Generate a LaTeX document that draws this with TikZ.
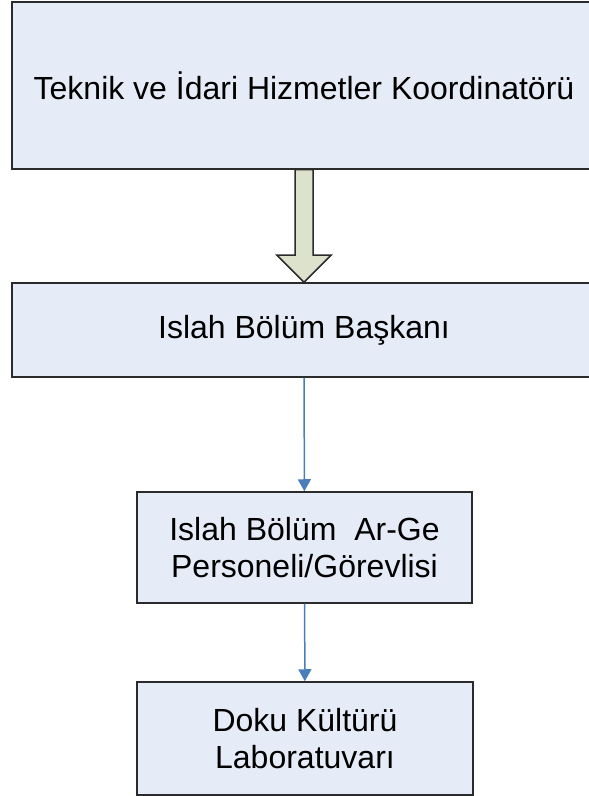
\documentclass[tikz,border=0pt]{standalone}
\usepackage{fontspec}
\setmainfont{Liberation Sans}
\usetikzlibrary{calc, arrows.meta}
\definecolor{boxfill}{HTML}{E6ECF7}
\definecolor{boxline}{HTML}{2B2B2B}
\definecolor{bigfill}{HTML}{DDE2CC}
\definecolor{linkblue}{HTML}{4A7EBB}

\begin{document}
\begin{tikzpicture}[x=1pt,y=1pt,
    unit/.style={draw=boxline, fill=boxfill, line width=1.5pt, align=center,
      inner sep=0pt, font=\fontsize{32}{37}\selectfont},
    link/.style={draw=linkblue, line width=1.5pt, -{Triangle[width=13pt,length=12pt]}}]
    \useasboundingbox (0,0) rectangle (589,796);
    \node[unit, minimum width=584, minimum height=167] (top) at (304,710.5) {Teknik ve İdari Hizmetler Koordinatörü};
    \node[unit, minimum width=584, minimum height=94] (mid) at (304,466) {Islah Bölüm Başkanı};
    \node[unit, minimum width=335, minimum height=111] (per) at (304.5,248.5) {Islah Bölüm \ Ar-Ge\\Personeli/Görevlisi};
    \node[unit, minimum width=336, minimum height=113] (lab) at (305,57.5) {Doku Kültürü\\Laboratuvarı};
    \draw[draw=boxline, fill=bigfill, line width=1.5pt, line join=miter]
      ($(top.south)+(-9,0)$) -- ($(mid.north)+(-9,27)$) -- ($(mid.north)+(-27,27)$)
      -- (mid.north) -- ($(mid.north)+(27,27)$) -- ($(mid.north)+(9,27)$)
      -- ($(top.south)+(9,0)$) -- cycle;
    \draw[link] (mid) -- (per);
    \draw[link] (per) -- (lab);
  \end{tikzpicture}
\end{document}
